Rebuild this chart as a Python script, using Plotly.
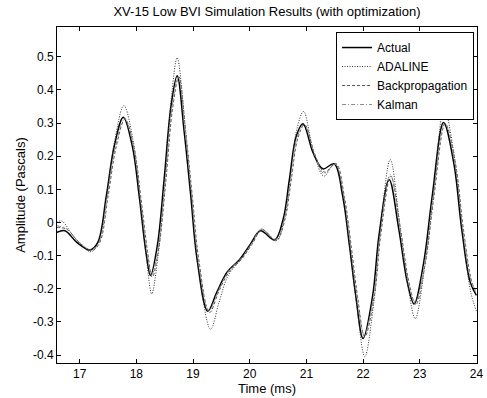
import plotly.graph_objects as go

# ---- data ----
t_actual = [16.6, 16.74, 16.95, 17.18, 17.32, 17.47, 17.61, 17.77, 17.93, 18.05, 18.17, 18.25,
            18.37, 18.49, 18.61, 18.72, 18.84, 18.96, 19.07, 19.26, 19.42, 19.60, 19.83, 20.01,
            20.19, 20.44, 20.59, 20.70, 20.82, 20.94, 21.12, 21.29, 21.49, 21.64, 21.76, 21.87,
            22.00, 22.17, 22.28, 22.46, 22.63, 22.78, 22.90, 23.07, 23.22, 23.42, 23.60, 23.74,
            23.89, 24.0]
actual = [-0.03, -0.025, -0.06, -0.083, -0.06, 0.08, 0.23, 0.318, 0.23, 0.08, -0.09, -0.16,
          -0.07, 0.13, 0.35, 0.443, 0.28, 0.08, -0.11, -0.268, -0.21, -0.15, -0.11, -0.066,
          -0.025, -0.053, 0.01, 0.13, 0.26, 0.298, 0.21, 0.162, 0.177, 0.08, -0.07, -0.22,
          -0.35, -0.22, -0.04, 0.13, -0.02, -0.18, -0.246, -0.12, 0.08, 0.302, 0.18, -0.02,
          -0.18, -0.22]

t_adaline = [16.6, 16.68, 16.95, 17.2, 17.33, 17.48, 17.62, 17.78, 17.94, 18.06, 18.18, 18.27,
             18.39, 18.51, 18.62, 18.72, 18.85, 18.97, 19.09, 19.31, 19.46, 19.62, 19.85, 20.03,
             20.21, 20.46, 20.61, 20.72, 20.83, 20.95, 21.13, 21.31, 21.5, 21.65, 21.77, 21.89,
             22.03, 22.19, 22.30, 22.48, 22.65, 22.80, 22.92, 23.09, 23.24, 23.43, 23.61, 23.75,
             23.9, 24.0]
adaline = [0.0, 0.005, -0.055, -0.088, -0.06, 0.085, 0.25, 0.353, 0.25, 0.08, -0.11, -0.215,
           -0.09, 0.14, 0.38, 0.497, 0.31, 0.08, -0.13, -0.322, -0.24, -0.16, -0.11, -0.065,
           -0.02, -0.055, 0.01, 0.14, 0.28, 0.335, 0.21, 0.14, 0.178, 0.08, -0.08, -0.25,
           -0.405, -0.24, -0.03, 0.19, -0.01, -0.2, -0.29, -0.13, 0.08, 0.345, 0.2, -0.02,
           -0.21, -0.268]

t_backprop = [16.6, 16.77, 16.98, 17.21, 17.35, 17.50, 17.64, 17.80, 17.96, 18.08, 18.20, 18.28,
              18.40, 18.52, 18.64, 18.75, 18.87, 18.99, 19.10, 19.29, 19.45, 19.63, 19.86, 20.04,
              20.22, 20.47, 20.62, 20.73, 20.85, 20.97, 21.15, 21.32, 21.52, 21.67, 21.79, 21.90,
              22.03, 22.20, 22.31, 22.49, 22.66, 22.81, 22.93, 23.10, 23.25, 23.45, 23.63, 23.77,
              23.92, 24.0]
backprop = [-0.015, -0.02, -0.058, -0.085, -0.062, 0.078, 0.225, 0.312, 0.225, 0.075, -0.09, -0.165,
            -0.072, 0.125, 0.345, 0.44, 0.275, 0.075, -0.11, -0.272, -0.21, -0.15, -0.11, -0.066,
            -0.022, -0.055, 0.008, 0.125, 0.255, 0.295, 0.205, 0.152, 0.178, 0.078, -0.07, -0.22,
            -0.345, -0.22, -0.04, 0.14, -0.02, -0.18, -0.248, -0.12, 0.078, 0.298, 0.178, -0.02,
            -0.18, -0.21]

t_kalman = [16.6, 16.76, 16.97, 17.20, 17.34, 17.49, 17.63, 17.79, 17.95, 18.07, 18.19, 18.27,
            18.39, 18.51, 18.63, 18.74, 18.86, 18.98, 19.09, 19.28, 19.44, 19.62, 19.85, 20.03,
            20.21, 20.46, 20.61, 20.72, 20.84, 20.96, 21.14, 21.31, 21.51, 21.66, 21.78, 21.89,
            22.02, 22.19, 22.30, 22.48, 22.65, 22.80, 22.92, 23.09, 23.24, 23.44, 23.62, 23.76,
            23.91, 24.0]
kalman = [-0.01, -0.018, -0.056, -0.082, -0.06, 0.08, 0.228, 0.315, 0.228, 0.078, -0.088, -0.158,
          -0.07, 0.128, 0.348, 0.438, 0.278, 0.078, -0.108, -0.265, -0.208, -0.148, -0.108, -0.064,
          -0.02, -0.05, 0.01, 0.128, 0.258, 0.296, 0.208, 0.148, 0.175, 0.08, -0.068, -0.218,
          -0.34, -0.218, -0.038, 0.145, -0.018, -0.178, -0.24, -0.118, 0.08, 0.3, 0.18, -0.018,
          -0.178, -0.215]

x_ticks = [17, 18, 19, 20, 21, 22, 23, 24]
x_tick_text = ["17", "18", "19", "20", "21", "22", "23", "24"]
y_ticks = [0.5, 0.4, 0.3, 0.2, 0.1, 0, -0.1, -0.2, -0.3, -0.4]
y_tick_text = ["0.5", "0.4", "0.3", "0.2", "0.1", "0", "-0.1", "-0.2", "-0.3", "-0.4"]

FONT = "Liberation Sans, Arial, Helvetica, sans-serif"

fig = go.Figure()
fig.add_trace(go.Scatter(x=t_actual, y=actual, name="Actual", mode="lines",
                         line=dict(color="#000000", width=1.5, shape="spline", smoothing=1.0)))
fig.add_trace(go.Scatter(x=t_adaline, y=adaline, name="ADALINE", mode="lines",
                         line=dict(color="#333333", width=1, dash="1px,1.5px", shape="spline", smoothing=1.0)))
fig.add_trace(go.Scatter(x=t_backprop, y=backprop, name="Backpropagation", mode="lines",
                         line=dict(color="#555555", width=1, dash="3px,2px", shape="spline", smoothing=1.0)))
fig.add_trace(go.Scatter(x=t_kalman, y=kalman, name="Kalman", mode="lines",
                         line=dict(color="#8a8a8a", width=1, dash="4px,2px,1px,2px", shape="spline", smoothing=1.0)))

axis_common = dict(showline=True, linecolor="black", linewidth=1, mirror="ticks",
                   ticks="inside", ticklen=4, tickcolor="black", showgrid=False,
                   zeroline=False, ticklabeloverflow="allow",
                   tickfont=dict(family=FONT, size=12, color="black"))

fig.update_layout(
    width=487, height=398,
    margin=dict(l=57, r=4, t=27, b=35),
    paper_bgcolor="white", plot_bgcolor="white",
    font=dict(family=FONT, size=12, color="black"),
    title=dict(text="XV-15 Low BVI Simulation Results (with optimization)",
               x=0.5, xref="paper", xanchor="center", y=0.97, yref="container",
               yanchor="middle", font=dict(family=FONT, size=13, color="black")),
    xaxis=dict(range=[16.6, 24.01], tickvals=x_ticks, ticktext=x_tick_text,
               title=dict(text="Time (ms)", font=dict(family=FONT, size=13), standoff=1),
               **axis_common),
    yaxis=dict(range=[-0.424, 0.59], tickvals=y_ticks, ticktext=y_tick_text,
               title=dict(text="Amplitude (Pascals)", font=dict(family=FONT, size=13), standoff=4),
               **axis_common),
    legend=dict(x=0.993, y=0.985, xanchor="right", yanchor="top",
                bgcolor="white", bordercolor="black", borderwidth=1,
                font=dict(family=FONT, size=12, color="black"),
                tracegroupgap=0, itemwidth=30),
    showlegend=True,
)

fig.write_html("out.html")
